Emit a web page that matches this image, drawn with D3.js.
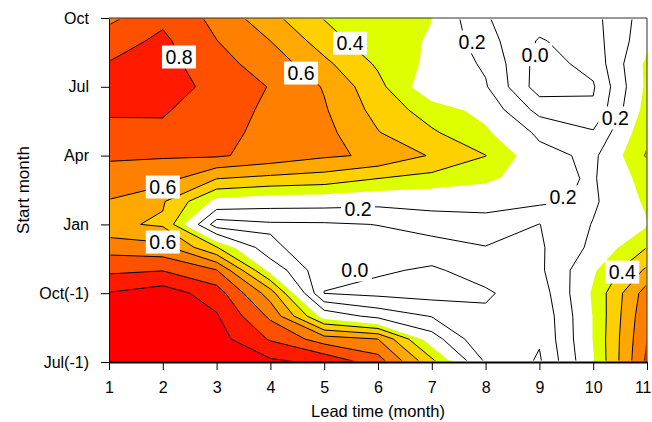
<!DOCTYPE html>
<html>
<head>
<meta charset="utf-8">
<script src="https://cdn.jsdelivr.net/npm/d3@7"></script>
<style>
  html, body { margin: 0; padding: 0; background: #ffffff; }
  svg { display: block; }
  text { font-family: "Liberation Sans", Arial, Helvetica, sans-serif; }
</style>
</head>
<body>
<svg id="chart" width="652" height="422"></svg>
<script>
// ---- Data: correlation by start month (rows) and lead time (columns) ----
const leads = [1, 2, 3, 4, 5, 6, 7, 8, 9, 10, 11];
const startMonths = ["Jul(-1)", "Aug(-1)", "Sep(-1)", "Oct(-1)", "Nov", "Dec", "Jan",
                     "Feb", "Mar", "Apr", "May", "Jun", "Jul", "Aug", "Sep", "Oct"];
const yTickLabels = ["Jul(-1)", "Oct(-1)", "Jan", "Apr", "Jul", "Oct"];

const rowJulPrev = [0.94, 0.95, 0.95, 0.92, 0.88, 0.75, 0.43, 0.09, -0.013, 0.30, 0.72];
const rowAugPrev = [0.94, 0.96, 0.94, 0.79, 0.65, 0.60, 0.25, 0.005, 0.01, 0.31, 0.70];
const rowSepPrev = [0.93, 0.96, 0.91, 0.68, 0.27, 0.167, 0.095, 0.013, 0.02, 0.31, 0.68];
const rowOctPrev = [0.905, 0.95, 0.85, 0.55, -0.002, -0.025, -0.04, -0.01, 0.045, 0.32, 0.65];
const rowNov = [0.78, 0.796, 0.705, 0.28, 0.02, 0.01, -0.01, 0.03, 0.08, 0.29, 0.52];
const rowDec = [0.66, 0.632, 0.405, 0.12, 0.04, 0.06, 0.04, 0.095, 0.086, 0.223, 0.40];
const rowJan = [0.52, 0.486, 0.05, 0.085, 0.088, 0.102, 0.163, 0.185, 0.098, 0.205, 0.295];
const rowFeb = [0.596, 0.51, 0.28, 0.25, 0.245, 0.23, 0.226, 0.215, 0.22, 0.185, 0.32];
const rowMar = [0.64, 0.645, 0.502, 0.474, 0.455, 0.40, 0.368, 0.33, 0.23, 0.19, 0.345];
const rowApr = [0.72, 0.708, 0.712, 0.665, 0.615, 0.585, 0.49, 0.402, 0.233, 0.178, 0.41];
const rowMay = [0.78, 0.782, 0.74, 0.663, 0.63, 0.505, 0.414, 0.32, 0.18, 0.112, 0.38];
const rowJun = [0.81, 0.81, 0.75, 0.68, 0.61, 0.465, 0.35, 0.27, 0.066, 0.015, 0.35];
const rowJul = [0.84, 0.85, 0.768, 0.695, 0.593, 0.43, 0.23, 0.21, -0.05, -0.01, 0.33];
const rowAug = [0.805, 0.84, 0.73, 0.66, 0.524, 0.385, 0.277, 0.185, -0.04, 0.03, 0.33];
const rowSep = [0.758, 0.82, 0.702, 0.60, 0.453, 0.327, 0.295, 0.14, -0.01, 0.057, 0.27];
const rowOct = [0.675, 0.78, 0.673, 0.53, 0.395, 0.35, 0.302, 0.105, 0.05, 0.069, 0.25];

const fillLevels = [0.3, 0.4, 0.5, 0.6, 0.7, 0.8, 0.9];
const fillColors = ["#DDFF00", "#FFD000", "#FFA800", "#FF8000", "#FF5000", "#FF1A00", "#FF0000"];
const lineLevels = [0.0, 0.1, 0.2, 0.3, 0.4, 0.5, 0.6, 0.7, 0.8, 0.9];

// contour labels: [lead, start-month index, text]
const contourLabels = [
  [2.30, 13.3, "0.8"], [4.57, 12.6, "0.6"], [5.48, 13.9, "0.4"], [7.75, 13.96, "0.2"],
  [8.92, 13.4, "0.0"], [10.41, 10.64, "0.2"], [2.0, 7.63, "0.6"], [5.63, 6.67, "0.2"],
  [9.44, 7.2, "0.2"], [2.0, 5.23, "0.6"], [5.57, 4.01, "0.0"], [10.54, 3.92, "0.4"]
];

// ---- Layout ----
const svg = d3.select("#chart");
const margin = { left: 109, top: 18, right: 5, bottom: 60 };
const W = 652, H = 422;
const plotW = W - margin.left - margin.right;  // 538
const plotH = H - margin.top - margin.bottom;  // 344

const x = d3.scaleLinear().domain([1, 11]).range([margin.left, margin.left + plotW]);
const y = d3.scaleLinear().domain([0, startMonths.length - 1]).range([margin.top + plotH, margin.top]);

const rows = [rowJulPrev, rowAugPrev, rowSepPrev, rowOctPrev, rowNov, rowDec, rowJan,
              rowFeb, rowMar, rowApr, rowMay, rowJun, rowJul, rowAug, rowSep, rowOct];
const nx = leads.length, ny = rows.length;
const values = [];
rows.forEach(r => r.forEach(v => values.push(v)));

const proj = d3.geoTransform({
  point: function(px, py) { this.stream.point(x(px + 0.5), y(py - 0.5)); }
});
const path = d3.geoPath(proj);

const defs = svg.append("defs");
defs.append("clipPath").attr("id", "plotClip")
  .append("rect").attr("x", margin.left).attr("y", margin.top).attr("width", plotW).attr("height", plotH);
defs.append("clipPath").attr("id", "lineClip")
  .append("rect").attr("x", margin.left + 1.5).attr("y", margin.top + 1.5)
  .attr("width", plotW - 3).attr("height", plotH - 3);

svg.append("rect").attr("x", margin.left).attr("y", margin.top)
  .attr("width", plotW).attr("height", plotH).attr("fill", "#ffffff");

const fills = d3.contours().size([nx, ny]).thresholds(fillLevels)(values);
svg.append("g").attr("clip-path", "url(#plotClip)")
  .selectAll("path").data(fills).enter().append("path")
  .attr("d", path)
  .attr("fill", (d, i) => fillColors[i])
  .attr("stroke", "none");

const lines = d3.contours().size([nx, ny]).thresholds(lineLevels)(values);
svg.append("g").attr("clip-path", "url(#lineClip)")
  .selectAll("path").data(lines).enter().append("path")
  .attr("d", path)
  .attr("fill", "none")
  .attr("stroke", d => Math.abs(d.value - 0.3) < 1e-9 ? "#ffffff" : "#000000")
  .attr("stroke-width", d => Math.abs(d.value - 0.3) < 1e-9 ? 2.2 : 1)
  .attr("stroke-linejoin", "round");

// labels
const lab = svg.append("g");
contourLabels.forEach(([lx, ly, t]) => {
  const cx = x(lx), cy = y(ly);
  lab.append("rect").attr("x", cx - 17).attr("y", cy - 11.5).attr("width", 34).attr("height", 23)
    .attr("fill", "#ffffff");
  lab.append("text").attr("x", cx).attr("y", cy + 7).attr("text-anchor", "middle")
    .attr("font-size", 19.5).attr("fill", "#000")
    .text(t);
});

// frame
svg.append("line").attr("x1", margin.left).attr("x2", margin.left + plotW)
  .attr("y1", margin.top).attr("y2", margin.top).attr("stroke", "#333").attr("stroke-width", 1);
svg.append("line").attr("x1", margin.left + plotW).attr("x2", margin.left + plotW)
  .attr("y1", margin.top).attr("y2", margin.top + plotH).attr("stroke", "#333").attr("stroke-width", 1);

// axes
const xAxis = d3.axisBottom(x).tickValues(leads).tickFormat(d3.format("d"))
  .tickSize(8).tickSizeOuter(0).tickPadding(12);
const gx = svg.append("g").attr("transform", `translate(0,${margin.top + plotH})`).call(xAxis);
gx.select(".domain").attr("stroke", "#000").attr("stroke-width", 2);
gx.selectAll(".tick line").attr("stroke", "#000").attr("stroke-width", 1);
gx.selectAll(".tick text").attr("font-size", 16).attr("fill", "#000")
  .style("font-family", "'Liberation Sans', Arial, sans-serif");
// keep the last tick label inside the picture
gx.selectAll(".tick text").filter(d => d === leads[leads.length - 1])
  .attr("text-anchor", "end").attr("x", W - 1 - x(leads[leads.length - 1]));

const yTickIdx = yTickLabels.map(l => startMonths.indexOf(l));
const yAxis = d3.axisLeft(y).tickValues(yTickIdx).tickFormat(i => startMonths[i])
  .tickSize(8).tickSizeOuter(0).tickPadding(12);
const gy = svg.append("g").attr("transform", `translate(${margin.left},0)`).call(yAxis);
gy.select(".domain").attr("stroke", "#000").attr("stroke-width", 1);
gy.selectAll(".tick line").attr("stroke", "#000");
gy.selectAll(".tick text").attr("font-size", 16).attr("fill", "#000")
  .style("font-family", "'Liberation Sans', Arial, sans-serif");

svg.append("text").attr("x", margin.left + plotW / 2).attr("y", 417)
  .attr("text-anchor", "middle").attr("font-size", 16.5).attr("fill", "#000")
  .text("Lead time (month)");
svg.append("text").attr("transform", `translate(23,${margin.top + plotH / 2}) rotate(-90)`)
  .attr("text-anchor", "middle").attr("dominant-baseline", "central")
  .attr("font-size", 17).attr("fill", "#000").text("Start month");
</script>
</body>
</html>
